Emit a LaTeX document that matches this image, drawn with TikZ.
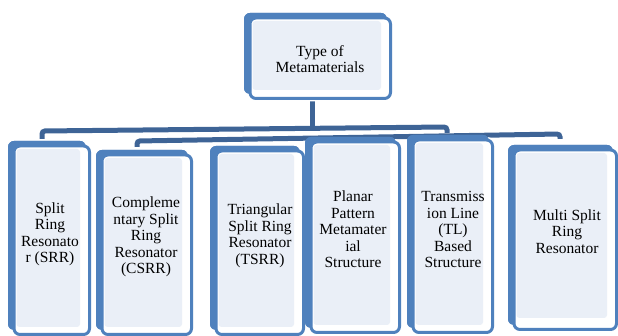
\documentclass[tikz,border=0pt]{standalone}
\usepackage{fontspec}
\setmainfont{Liberation Serif}
\definecolor{boxblue}{RGB}{79,129,189}
\definecolor{lineblue}{RGB}{62,100,150}
\definecolor{boxlight}{RGB}{234,239,247}
\newcommand\sketchbox[5]{%
  \fill[boxblue, rounded corners=6pt] (#1,#2) rectangle (#3-5,#4-6);
  \draw[white, line width=6pt, rounded corners=6pt] (#1+6,#2+5) rectangle (#3-1.5,#4-1.5);
  \fill[boxblue, rounded corners=6pt] (#1,#2) rectangle (#3-5,#4-6);
  \filldraw[fill=white, draw=boxblue, line width=3pt, rounded corners=6pt] (#1+6,#2+5) rectangle (#3-1.5,#4-1.5);
  \fill[boxlight, rounded corners=3pt] (#1+8.5,#2+8) rectangle (#3-11,#4-#5);
}
\tikzset{
  lbl/.style={align=center, inner sep=0pt, font=\fontsize{15.5}{16.5}\selectfont},
  conn/.style={draw=lineblue, line width=5pt, rounded corners=3pt}
}
\begin{document}
\begin{tikzpicture}[x=1pt,y=-1pt]
\useasboundingbox (0,0) rectangle (618,336);
% connectors
\coordinate (topbot) at (312,98);
\coordinate (hub) at (312,128);
\coordinate (l1a) at (42,139);
\coordinate (l1b) at (447,133);
\coordinate (l2a) at (137,147);
\coordinate (l2b) at (560,139);
\draw[conn] (topbot) -- (hub);
\draw[conn] (l1a) -- (42,131) -- (447,127) -- (l1b);
\draw[conn] (l2a) -- (137,141) -- (560,134) -- (l2b);
% top box
\sketchbox{244}{13}{392}{100}{10}
\node[lbl] (top) at (320,59) {Type of\\Metamaterials};
% children
\sketchbox{8}{141}{91}{336}{9}
\node[lbl] (b1) at (50,234.5) {Split\\Ring\\Resonato\\r (SRR)};
\sketchbox{96}{150}{193}{336}{9}
\node[lbl] (b2) at (146,237) {Compleme\\ntary Split\\Ring\\Resonator\\(CSRR)};
\sketchbox{210}{146}{305}{336}{9}
\node[lbl] (b3) at (260,236) {Triangular\\Split Ring\\Resonator\\(TSRR)};
\sketchbox{305}{137}{401}{334}{9}
\node[lbl] (b4) at (353,229.5) {Planar\\Pattern\\Metamater\\ial\\Structure};
\sketchbox{407}{135}{494}{334}{9}
\node[lbl] (b5) at (453,229.5) {Transmiss\\ion Line\\(TL)\\Based\\Structure};
\sketchbox{508}{145}{618}{331}{13}
\node[lbl] (b6) at (567,231.5) {Multi Split\\Ring\\Resonator};
\end{tikzpicture}
\end{document}
